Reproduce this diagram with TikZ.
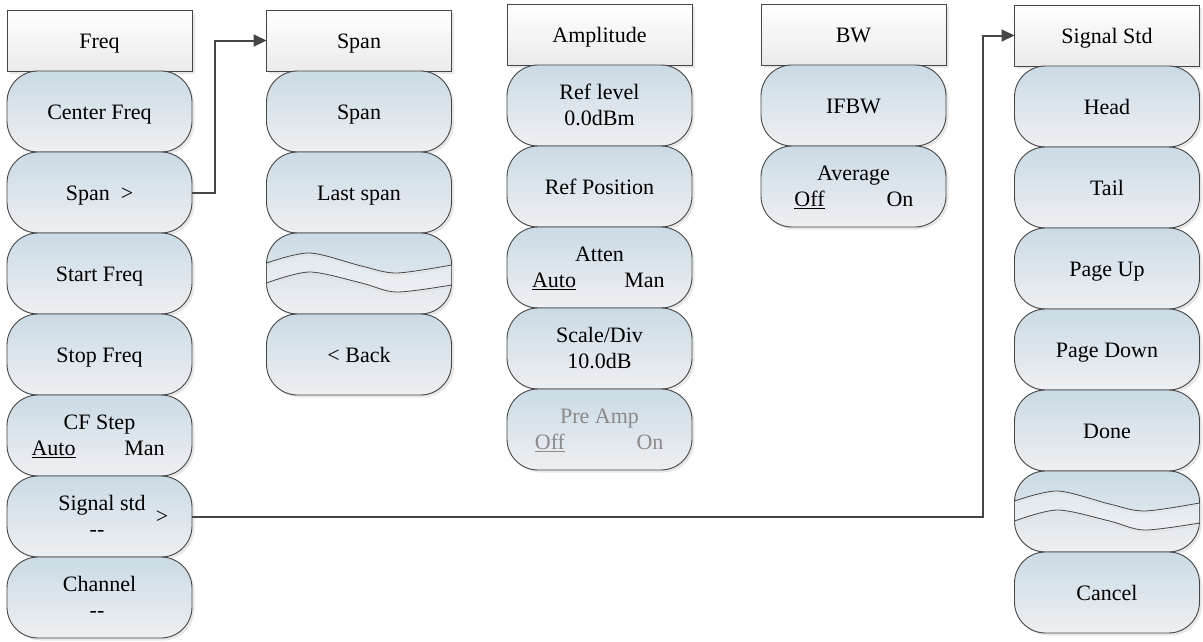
\documentclass[tikz,border=0pt]{standalone}
\usepackage{fontspec}
\setmainfont{Liberation Serif}
\usetikzlibrary{arrows.meta,positioning,calc,shadows}
\definecolor{Edge}{HTML}{454545}
\definecolor{KeyTop}{HTML}{CBDAE5}
\definecolor{KeyBot}{HTML}{EEF0F2}
\definecolor{HeadBot}{HTML}{EBEBEB}
\definecolor{Dim}{HTML}{8A8A8A}

\tikzset{
  menuhead/.style={draw=Edge, line width=.9pt, top color=white, bottom color=HeadBot,
    minimum width=185pt, minimum height=61pt, inner sep=0pt, outer sep=0pt,
    text height=16pt, text depth=0pt,
    drop shadow={shadow xshift=2.5pt, shadow yshift=-2.5pt, opacity=.18}},
  softkey/.style={draw=Edge, line width=.9pt, rounded corners=31pt,
    top color=KeyTop, bottom color=KeyBot,
    minimum width=185pt, minimum height=81pt, inner sep=0pt, outer sep=0pt,
    text height=16pt, text depth=0pt,
    drop shadow={shadow xshift=2.5pt, shadow yshift=-2.5pt, opacity=.18}},
  keytext/.style={anchor=base, inner sep=0pt},
  wave/.style={Edge, line width=.8pt},
  link/.style={Edge, line width=2pt, -{Triangle[length=13pt,width=12pt]}},
}

\begin{document}
\begin{tikzpicture}[x=1pt,y=-1pt,font=\fontsize{22pt}{26pt}\selectfont]
  \useasboundingbox (0,0) rectangle (1203,641);

  % Freq menu
  \node[menuhead] (fhead) at (99.5,40.5) {Freq};
  \node[softkey, below=0pt of fhead] (fcenter) {Center Freq};
  \node[softkey, below=0pt of fcenter] (fspan) {Span~~>};
  \node[softkey, below=0pt of fspan] (fstart) {Start Freq};
  \node[softkey, below=0pt of fstart] (fstop) {Stop Freq};
  \node[softkey, below=0pt of fstop] (fstep) {};
  \node[keytext] (fsteptitle) at ($(fstep)+(0,-6)$) {CF Step};
  \node[keytext] (fstepauto) at ($(fstep)+(-46,20)$) {\underline{Auto}};
  \node[keytext] (fstepman) at ($(fstep)+(45,20)$) {Man};
  \node[softkey, below=0pt of fstep] (fsig) {};
  \node[keytext] (fsigtitle) at ($(fsig)+(2.5,-6)$) {Signal std};
  \node[keytext] (fsigmark) at ($(fsig)+(62.5,7)$) {>};
  \node[keytext] (fsigval) at ($(fsig)+(-2.5,20)$) {-{}-};
  \node[softkey, below=0pt of fsig] (fchan) {};
  \node[keytext] (fchantitle) at ($(fchan)+(0,-6)$) {Channel};
  \node[keytext] (fchanval) at ($(fchan)+(-2.5,20)$) {-{}-};

  % Span menu
  \node[menuhead] (spanhead) at (359,40.5) {Span};
  \node[softkey, below=0pt of spanhead] (sspan) {Span};
  \node[softkey, below=0pt of sspan] (slast) {Last span};
  \node[softkey, below=0pt of slast] (sgap) {};
  \node[softkey, below=0pt of sgap] (sback) {< Back};
  \begin{scope}[shift={(sgap.north west)}]
    \fill[white,opacity=.3] plot[smooth] coordinates {(0,30)(43,20)(95,33)(130,40)(185,32)}
      -- plot[smooth] coordinates {(185,52)(130,59)(95,50)(43,39)(0,50)} -- cycle;
    \draw[gray!25,line width=.8pt] plot[smooth] coordinates {(0,32)(43,22)(95,35)(130,42)(185,34)};
    \draw[gray!25,line width=.8pt] plot[smooth] coordinates {(0,52)(43,41)(95,52)(130,61)(185,54)};
    \draw[wave] plot[smooth] coordinates {(0,30)(43,20)(95,33)(130,40)(185,32)};
    \draw[wave] plot[smooth] coordinates {(0,50)(43,39)(95,50)(130,59)(185,52)};
  \end{scope}

  % Amplitude menu
  \node[menuhead] (amphead) at (599.5,34.5) {Amplitude};
  \node[softkey, below=0pt of amphead] (aref) {};
  \node[keytext] (areftitle) at ($(aref)+(0,-6)$) {Ref level};
  \node[keytext] (arefval) at ($(aref)+(0,20)$) {0.0dBm};
  \node[softkey, below=0pt of aref] (apos) {Ref Position};
  \node[softkey, below=0pt of apos] (aatt) {};
  \node[keytext] (aatttitle) at ($(aatt)+(0,-6)$) {Atten};
  \node[keytext] (aattauto) at ($(aatt)+(-45.5,20)$) {\underline{Auto}};
  \node[keytext] (aattman) at ($(aatt)+(45,20)$) {Man};
  \node[softkey, below=0pt of aatt] (ascale) {};
  \node[keytext] (ascaletitle) at ($(ascale)+(0,-6)$) {Scale/Div};
  \node[keytext] (ascaleval) at ($(ascale)+(0,20)$) {10.0dB};
  \node[softkey, below=0pt of ascale] (apre) {};
  \node[keytext,Dim] (apretitle) at ($(apre)+(0,-6)$) {Pre Amp};
  \node[keytext,Dim] (apreoff) at ($(apre)+(-49.5,20)$) {\underline{Off}};
  \node[keytext,Dim] (apreon) at ($(apre)+(50.5,20)$) {On};

  % BW menu
  \node[menuhead] (bwhead) at (853.5,34.5) {BW};
  \node[softkey, below=0pt of bwhead] (bwif) {IFBW};
  \node[softkey, below=0pt of bwif] (bwavg) {};
  \node[keytext] (bwavgtitle) at ($(bwavg)+(0,-6)$) {Average};
  \node[keytext] (bwavgoff) at ($(bwavg)+(-44,20)$) {\underline{Off}};
  \node[keytext] (bwavgon) at ($(bwavg)+(46.5,20)$) {On};

  % Signal Std menu
  \node[menuhead] (sighead) at (1107,35.5) {Signal Std};
  \node[softkey, below=0pt of sighead] (xhead) {Head};
  \node[softkey, below=0pt of xhead] (xtail) {Tail};
  \node[softkey, below=0pt of xtail] (xup) {Page Up};
  \node[softkey, below=0pt of xup] (xdown) {Page Down};
  \node[softkey, below=0pt of xdown] (xdone) {Done};
  \node[softkey, below=0pt of xdone] (xgap) {};
  \node[softkey, below=0pt of xgap] (xcancel) {Cancel};
  \begin{scope}[shift={(xgap.north west)}]
    \fill[white,opacity=.3] plot[smooth] coordinates {(0,30)(43,20)(95,33)(130,40)(185,32)}
      -- plot[smooth] coordinates {(185,52)(130,59)(95,50)(43,39)(0,50)} -- cycle;
    \draw[gray!25,line width=.8pt] plot[smooth] coordinates {(0,32)(43,22)(95,35)(130,42)(185,34)};
    \draw[gray!25,line width=.8pt] plot[smooth] coordinates {(0,52)(43,41)(95,52)(130,61)(185,54)};
    \draw[wave] plot[smooth] coordinates {(0,30)(43,20)(95,33)(130,40)(185,32)};
    \draw[wave] plot[smooth] coordinates {(0,50)(43,39)(95,50)(130,59)(185,52)};
  \end{scope}

  % links
  \coordinate (spanbend) at (215,0);
  \coordinate (sigbend) at (983,0);
  \draw[link] (fspan.east) -- (fspan.east -| spanbend) |- (spanhead.west);
  \draw[link] (fsig.east) -- (fsig.east -| sigbend) |- (sighead.west);
\end{tikzpicture}
\end{document}
